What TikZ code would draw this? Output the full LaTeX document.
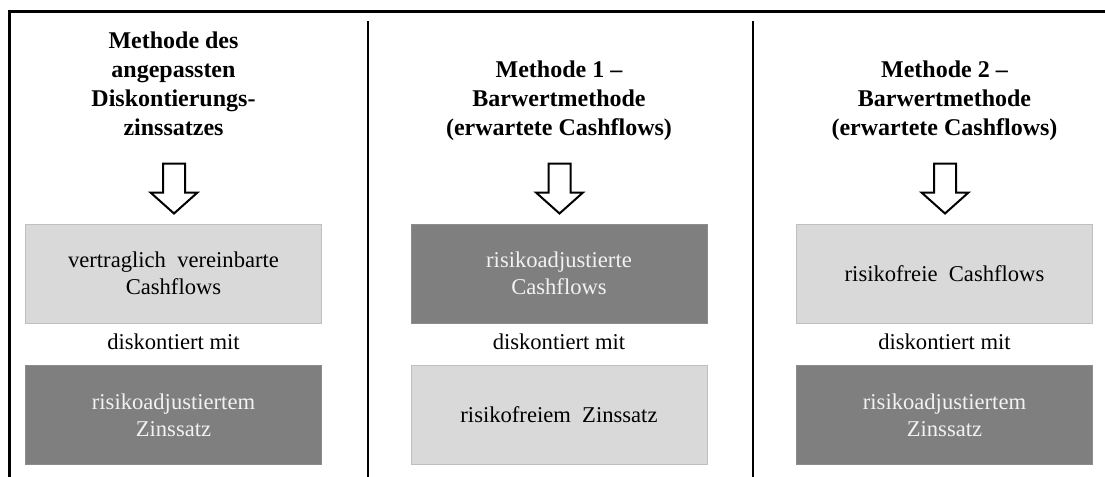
\documentclass[tikz,border=0pt]{standalone}
\usepackage{fontspec}
\setmainfont{Liberation Serif}
\usetikzlibrary{positioning,calc}

\definecolor{lightfill}{HTML}{D9D9D9}
\definecolor{lightedge}{HTML}{BFBFBF}
\definecolor{darkfill}{HTML}{7F7F7F}
\definecolor{darkedge}{HTML}{8C8C8C}
\definecolor{darktext}{HTML}{F2F2F2}

\tikzset{
  headline/.style={font=\fontsize{12}{14.5}\selectfont\bfseries, align=center, anchor=north, inner sep=0pt},
  lightbox/.style={draw=lightedge, line width=0.5pt, fill=lightfill, text=black,
    minimum width=148pt, minimum height=49.5pt, align=center, inner sep=0pt,
    font=\fontsize{11.3}{13.5}\selectfont},
  darkbox/.style={lightbox, draw=darkedge, fill=darkfill, text=darktext},
  between/.style={font=\fontsize{11.3}{13.5}\selectfont, inner sep=0pt, anchor=base},
  blockarrow/.style={draw=black, line width=1pt, fill=white, line join=miter}
}

\begin{document}
\begin{tikzpicture}[x=0.5pt,y=-0.5pt]
    \useasboundingbox (0,0) rectangle (1105,477);

    % frame and column separators
    \draw[line width=1.5pt] (9.5,477) -- (9.5,11.5) -- (1105,11.5);
    \foreach \sx in {368,753}
      \draw[line width=0.75pt] (\sx,21) -- (\sx,477);

    % headings
    \node[headline] (head1) at (173.5,31.6) {Methode des\\angepassten\\Diskontierungs-\\zinssatzes};
    \node[headline] (head2) at (559,60.6) {Methode 1 --\\Barwertmethode\\(erwartete Cashflows)};
    \node[headline] (head3) at (944.5,60.6) {Methode 2 --\\Barwertmethode\\(erwartete Cashflows)};

    % cash flow boxes
    \node[lightbox] (top1) at (173.5,273.5) {vertraglich\ \ vereinbarte\\Cashflows};
    \node[darkbox]  (top2) at (559,273.5) {risikoadjustierte\\Cashflows};
    \node[lightbox] (top3) at (944.5,273.5) {risikofreie\ \ Cashflows};

    % discount rate boxes
    \node[darkbox]  (bot1) at (173.5,415) {risikoadjustiertem\\Zinssatz};
    \node[lightbox] (bot2) at (559,415) {risikofreiem\ \ Zinssatz};
    \node[darkbox]  (bot3) at (944.5,415) {risikoadjustiertem\\Zinssatz};

    % "diskontiert mit" between the boxes
    \foreach \n in {1,2,3}
      \node[between] (mid\n) at ($(top\n.south)!0.5!(bot\n.north)+(0,5.5)$) {diskontiert mit};

    % block arrows heading -> box
    \foreach \n in {1,2,3} {
      \coordinate (tip\n) at ($(top\n.north)+(0.5,-10)$);
      \draw[blockarrow] (tip\n) -- ++(-23.5,-21) -- ++(12.5,0) -- ++(0,-29)
        -- ++(22,0) -- ++(0,29) -- ++(12.5,0) -- cycle;
    }

\end{tikzpicture}
\end{document}
